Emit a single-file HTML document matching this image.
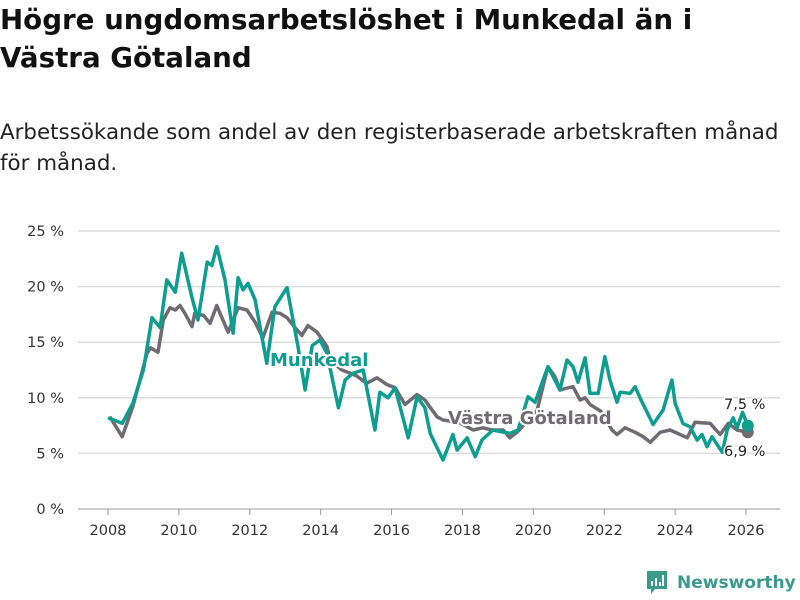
<!DOCTYPE html>
<html><head><meta charset="utf-8">
<style>
body{margin:0;width:800px;height:600px;background:#fff;font-family:"DejaVu Sans","Liberation Sans",sans-serif;overflow:hidden;position:relative}
h1{position:absolute;left:0;top:1px;margin:0;font-size:27.7px;line-height:38px;font-weight:bold;color:#111;white-space:nowrap}
.sub{position:absolute;left:0;top:117px;margin:0;font-size:21.4px;line-height:31px;color:#222;white-space:nowrap}
svg{position:absolute;left:0;top:0}
</style></head><body>
<h1>Högre ungdomsarbetslöshet i Munkedal än i<br>Västra Götaland</h1>
<p class="sub">Arbetssökande som andel av den registerbaserade arbetskraften månad<br>för månad.</p>
<svg id="chart" width="800" height="600"></svg>
<script>
const yTicks=[0,5,10,15,20,25];
const xTicks=[2008,2010,2012,2014,2016,2018,2020,2022,2024,2026];
const munkDates=[2008.0,2008.4,2008.7,2009.0,2009.24,2009.47,2009.66,2009.9,2010.08,2010.37,2010.54,2010.8,2010.93,2011.07,2011.3,2011.53,2011.67,2011.81,2011.95,2012.15,2012.48,2012.71,2013.05,2013.36,2013.56,2013.76,2013.98,2014.18,2014.5,2014.69,2014.91,2015.2,2015.53,2015.67,2015.9,2016.1,2016.47,2016.72,2016.94,2017.09,2017.45,2017.73,2017.85,2018.13,2018.36,2018.55,2018.86,2019.34,2019.57,2019.85,2020.05,2020.41,2020.56,2020.75,2020.95,2021.12,2021.26,2021.46,2021.6,2021.83,2022.02,2022.16,2022.36,2022.45,2022.73,2022.87,2023.01,2023.38,2023.66,2023.91,2024.0,2024.22,2024.42,2024.62,2024.76,2024.9,2025.04,2025.33,2025.47,2025.64,2025.75,2025.9,2026.05];
const munkValues=[8.2,7.7,9.5,12.5,17.2,16.3,20.6,19.5,23.0,19.0,17.0,22.2,21.9,23.6,20.6,15.8,20.8,19.7,20.3,18.8,13.1,18.2,19.9,14.6,10.7,14.7,15.2,14.0,9.1,11.6,12.2,12.5,7.1,10.5,10.0,10.9,6.4,10.1,9.1,6.8,4.4,6.7,5.3,6.4,4.7,6.2,7.1,6.8,7.1,10.1,9.6,12.8,11.9,10.7,13.4,12.8,11.4,13.6,10.4,10.4,13.7,11.6,9.6,10.5,10.4,11.0,10.0,7.6,8.9,11.6,9.5,7.7,7.4,6.2,6.7,5.6,6.5,5.1,7.1,8.2,7.3,8.7,7.5];
const vgDates=[2008.05,2008.4,2008.7,2009.1,2009.2,2009.41,2009.56,2009.75,2009.9,2010.03,2010.17,2010.37,2010.45,2010.7,2010.88,2011.07,2011.2,2011.39,2011.67,2011.92,2012.15,2012.37,2012.63,2012.85,2013.05,2013.28,2013.47,2013.64,2013.9,2014.18,2014.26,2014.6,2015.0,2015.3,2015.59,2015.87,2016.1,2016.38,2016.72,2016.94,2017.28,2017.45,2017.9,2018.3,2018.58,2018.83,2019.15,2019.34,2019.54,2019.8,2020.1,2020.41,2020.61,2020.75,2020.98,2021.12,2021.32,2021.46,2021.6,2021.9,2022.22,2022.36,2022.59,2022.87,2023.1,2023.3,2023.58,2023.86,2024.14,2024.34,2024.56,2024.99,2025.27,2025.5,2025.75,2026.05];
const vgValues=[8.3,6.5,9.2,14.0,14.5,14.1,17.0,18.1,17.9,18.3,17.6,16.4,17.6,17.4,16.7,18.3,17.3,15.9,18.1,17.9,16.8,15.4,17.7,17.6,17.2,16.3,15.6,16.5,15.9,14.6,13.4,12.5,12.0,11.3,11.8,11.2,10.9,9.4,10.3,9.8,8.3,8.0,7.8,7.1,7.3,7.1,7.1,6.4,6.9,7.8,8.8,12.8,11.9,10.7,10.9,11.0,9.8,10.0,9.4,8.8,7.1,6.7,7.3,6.9,6.5,6.0,6.9,7.1,6.7,6.4,7.8,7.7,6.7,7.7,7.1,6.9];
const NS="http://www.w3.org/2000/svg";
const svg=document.getElementById('chart');
const X=y=>108+(y-2008)*(746-108)/18;
const Y=v=>509-v*(509-231)/25;
function mk(t,a,p){const e=document.createElementNS(NS,t);for(const k in a)e.setAttribute(k,a[k]);(p||svg).appendChild(e);return e;}
yTicks.forEach(v=>{
  const l=mk('line',{x1:78,x2:780,y1:Y(v),y2:Y(v),stroke:v===0?'#999':'#ddd','stroke-width':v===0?1:1.5});
  
  
  const t=mk('text',{x:64,y:Y(v)+5,'text-anchor':'end','font-size':14.5,fill:'#333'});
  t.textContent=v+' %';
  
  
});
xTicks.forEach(yr=>{
  const l=mk('line',{x1:X(yr),x2:X(yr),y1:509,y2:515,stroke:'#999'});
  
  
  const t=mk('text',{x:X(yr),y:535,'text-anchor':'middle','font-size':14.5,fill:'#333'});
  t.textContent=yr;
  
  
});
function path(d,v){return d.map((x,i)=>(i?'L':'M')+X(x).toFixed(1)+','+Y(v[i]).toFixed(1)).join('');}
const g=mk('path',{d:path(vgDates,vgValues),fill:'none',stroke:'#6e6c72','stroke-width':3.5,'stroke-linejoin':'round'});


const m=mk('path',{d:path(munkDates,munkValues),fill:'none',stroke:'#0e9e90','stroke-width':3.5,'stroke-linejoin':'round'});


const dg=mk('circle',{cx:X(vgDates[vgDates.length-1]),cy:Y(vgValues[vgValues.length-1]),r:6,fill:'#6e6c72'});


const dm=mk('circle',{cx:X(munkDates[munkDates.length-1]),cy:Y(munkValues[munkValues.length-1]),r:6,fill:'#0e9e90'});


function lab(txt,x,y,col,name,size,bold){
  const t=mk('text',{x:x,y:y,'font-size':size,'font-weight':bold?'bold':'normal',fill:col,stroke:'#fff','stroke-width':bold?4:3,'paint-order':'stroke','stroke-linejoin':'round'});
  t.textContent=txt;
  
  
}
lab('Munkedal',270,366,'#0e9e90','label-munkedal',18,true);
lab('Västra Götaland',448,424,'#6e6c72','label-vastra-gotaland',18,true);
lab('7,5 %',724,409,'#222','end-value-munkedal',14.5,false);
lab('6,9 %',724,456,'#222','end-value-vastra-gotaland',14.5,false);
</script>
<div style="position:absolute;left:645px;top:570px;height:26px;display:flex;align-items:center">
<svg width="24" height="28" viewBox="0 0 24 28" style="position:static"><path d="M2 2h20v18H10l-4 5v-5H2z" fill="#3a9a8c"/><rect x="6" y="12" width="2" height="5" fill="#fff"/><rect x="10" y="9" width="2" height="8" fill="#fff"/><rect x="14" y="13" width="2" height="4" fill="#fff"/><rect x="17" y="6" width="2" height="11" fill="#fff"/></svg>
<span style="margin-left:8px;font-size:17px;font-weight:bold;color:#3a9a8c">Newsworthy</span>
</div>
</body></html>
